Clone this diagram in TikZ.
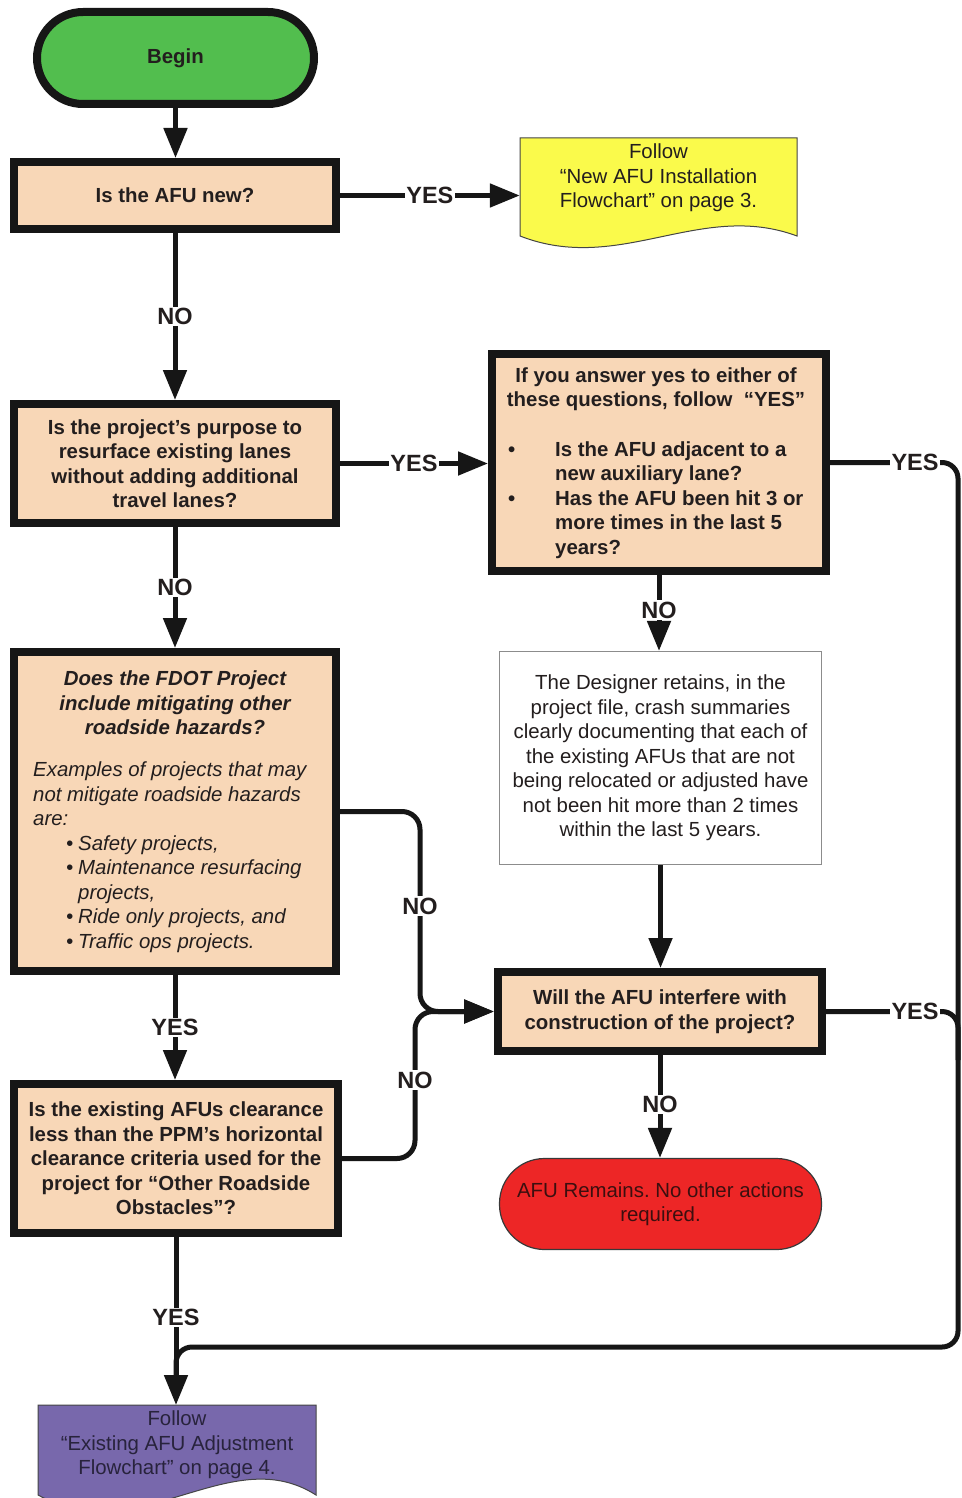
\documentclass[tikz,border=0pt]{standalone}
\usepackage{fontspec}
\setmainfont{Liberation Sans}
\usetikzlibrary{arrows.meta,calc}
\frenchspacing
\definecolor{peach}{RGB}{248,215,183}
\definecolor{greenc}{RGB}{82,190,78}
\definecolor{yellowc}{RGB}{250,250,75}
\definecolor{redc}{RGB}{237,38,38}
\definecolor{purplec}{RGB}{120,104,172}
\definecolor{boxline}{RGB}{22,22,22}
\definecolor{txt}{RGB}{35,30,30}
\definecolor{redtxt}{RGB}{60,15,15}
\definecolor{purtxt}{RGB}{40,35,60}
\definecolor{grayline}{RGB}{140,140,140}
\newcommand\myBf{\fontsize{20.4}{24.5}\selectfont\bfseries}
\newcommand\myRm{\fontsize{20.4}{24.5}\selectfont}
\newcommand\myLbl{\fontsize{23.5}{28}\selectfont\bfseries}
\begin{document}
\begin{tikzpicture}[x=1pt,y=-1pt,
  box/.style={draw=boxline, line width=8pt, fill=peach, text=txt, font=\myBf, align=center, inner sep=0pt},
  conn/.style={draw=boxline, line width=5pt, -{Triangle[length=30pt,width=23pt]}},
  plainconn/.style={draw=boxline, line width=5pt},
  lbl/.style={fill=white, inner sep=1.5pt, font=\myLbl, text=txt},
  doc/.style={draw=boxline!80, line width=1pt},
]
\useasboundingbox[fill=white] (0,0) rectangle (961,1498);

% shapes
\node[box, rounded corners=46pt, fill=greenc, minimum width=277pt, minimum height=92pt] (begin) at (175.5,58) {Begin};
\node[box, minimum width=322pt, minimum height=67pt] (q1) at (175,195.5) {Is the AFU new?};

\draw[doc, fill=yellowc] (520,138) -- (797,138) -- (797,236) .. controls (700,200) and (620,275) .. (520,236) -- cycle;
\node[font=\myRm, text=txt, align=center, minimum width=277pt, inner sep=0pt] (f1) at (658.5,178) {Follow\\“New AFU Installation\\Flowchart” on page 3.};

\node[box, minimum width=322pt, minimum height=119pt] (q2) at (175,463.5) {Is the project’s purpose to\\resurface existing lanes\\without adding additional\\travel lanes?};

\node[box, minimum width=334pt, minimum height=217pt] (rq) at (659,462.5) {};
\node[font=\myBf, text=txt, align=center, inner sep=0pt] (rqh) at (656,389) {If you answer yes to either of\\these questions, follow ~“YES”};
\node[font=\myBf, text=txt, align=left, anchor=west, inner sep=0pt] (rql) at (508,500) {\makebox[47pt][l]{•}Is the AFU adjacent to a\\\hspace*{47pt}new auxiliary lane?\\\makebox[47pt][l]{•}Has the AFU been hit 3 or\\\hspace*{47pt}more times in the last 5\\\hspace*{47pt}years?};

\node[draw=grayline, line width=1.2pt, fill=white, text=txt, font=\myRm, align=center, inner sep=0pt, minimum width=322pt, minimum height=213pt] (white) at (660.5,758) {The Designer retains, in the\\project file, crash summaries\\clearly documenting that each of\\the existing AFUs that are not\\being relocated or adjusted have\\not been hit more than 2 times\\within the last 5 years.};

\node[box, minimum width=324pt, minimum height=79pt] (will) at (660,1011.5) {Will the AFU interfere with\\construction of the project?};

\node[draw=boxline!85, line width=1.2pt, fill=redc, text=redtxt, font=\myRm, align=center, inner sep=0pt, rounded corners=45pt, minimum width=322pt, minimum height=91pt] (red) at (660.5,1204) {AFU Remains. No other actions\\required.};

\node[box, minimum width=322pt, minimum height=319pt] (q3) at (175,811.5) {};
\node[font=\myBf\itshape, text=txt, align=center, inner sep=0pt] (q3h) at (175,703) {Does the FDOT Project\\include mitigating other\\roadside hazards?};
\node[font=\myRm\itshape, text=txt, align=left, anchor=west, inner sep=0pt] (q3b) at (33,857) {Examples of projects that may\\not mitigate roadside hazards\\are:\\\hspace*{33pt}\makebox[12pt][l]{•}Safety projects,\\\hspace*{33pt}\makebox[12pt][l]{•}Maintenance resurfacing\\\hspace*{45pt}projects,\\\hspace*{33pt}\makebox[12pt][l]{•}Ride only projects, and\\\hspace*{33pt}\makebox[12pt][l]{•}Traffic ops projects.};

\node[box, minimum width=324pt, minimum height=149pt] (q4) at (176,1158.5) {Is the existing AFUs clearance\\less than the PPM’s horizontal\\clearance criteria used for the\\project for “Other Roadside\\Obstacles”?};

\draw[doc, fill=purplec] (38,1405) -- (316,1405) -- (316,1495) .. controls (230,1440) and (140,1550) .. (38,1495) -- cycle;
\node[font=\myRm, text=purtxt, align=center, inner sep=0pt] (p1) at (177,1445) {Follow\\“Existing AFU Adjustment\\Flowchart” on page 4.};
\coordinate (p1n) at (176,1405);

% connectors
\draw[conn] (begin.south) -- (begin.south |- q1.north);
\draw[conn] (q1.east) -- node[lbl]{YES} (q1.east -| f1.west);
\draw[conn] (q1.south) -- node[lbl]{NO} (q2.north);
\draw[conn] (q2.east) -- node[lbl]{YES} (q2.east -| rq.west);
\draw[conn] (q2.south) -- node[lbl]{NO} (q3.north);
\draw[conn] (q3.south) -- node[lbl]{YES} (q3.south |- q4.north);
\draw[conn] (rq.south) -- node[lbl,pos=0.46]{NO} (rq.south |- white.north);
\draw[conn] (white.south) -- (white.south |- will.north);
\draw[conn] (will.south) -- node[lbl,pos=0.48]{NO} (will.south |- red.north);

\coordinate (c3) at (420,1011.5);
\coordinate (c4) at (415,1011.5);
\draw[conn, rounded corners=18pt] (q3.east) -| (c3) -- (will.west);
\draw[conn, rounded corners=18pt] (q4.east) -| (c4) -- (will.west);
\node[lbl] at (420,906) {NO};
\node[lbl] at (415,1080) {NO};

\coordinate (r1) at (958,462.5);
\coordinate (r2) at (958,1347);
\coordinate (r3) at (176,1347);
\coordinate (r4) at (176,1390);
\coordinate (w1) at (958,1011.5);
\coordinate (w2) at (958,1060);
\draw[plainconn, rounded corners=16pt] (rq.east) -- (r1) -- (r2) -- (r3) -- (r4);
\draw[plainconn, rounded corners=16pt] (will.east) -- (w1) -- (w2);
\draw[conn] (q4.south) -- node[lbl,pos=0.48]{YES} (p1n);
\node[lbl] at (915,462) {YES};
\node[lbl] at (915,1011) {YES};
\end{tikzpicture}
\end{document}
